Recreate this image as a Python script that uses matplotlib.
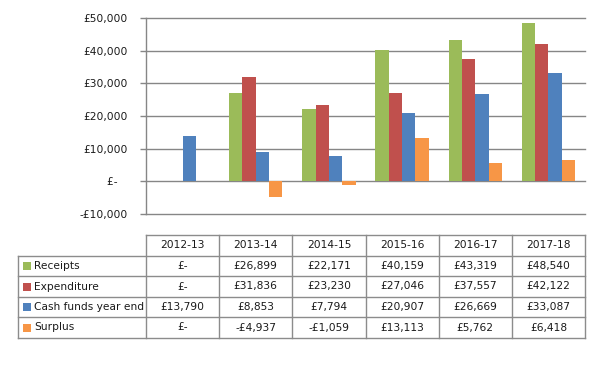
import matplotlib
matplotlib.use("Agg")
import matplotlib.pyplot as plt
from matplotlib.lines import Line2D
from matplotlib.patches import Rectangle
from matplotlib.transforms import blended_transform_factory
import numpy as np

years = ["2012-13", "2013-14", "2014-15", "2015-16", "2016-17", "2017-18"]
series_names = ["Receipts", "Expenditure", "Cash funds year end", "Surplus"]
receipts = [0, 26899, 22171, 40159, 43319, 48540]
expenditure = [0, 31836, 23230, 27046, 37557, 42122]
cash_funds = [13790, 8853, 7794, 20907, 26669, 33087]
surplus = [0, -4937, -1059, 13113, 5762, 6418]
colors = ["#9BBB59", "#C0504D", "#4F81BD", "#F79646"]
yticks = [-10000, 0, 10000, 20000, 30000, 40000, 50000]

series = [receipts, expenditure, cash_funds, surplus]


def fmt(v):
    if v == 0:
        return "£-"
    s = "£{:,}".format(abs(int(v)))
    return "-" + s if v < 0 else s


W, H = 607, 371
fig = plt.figure(figsize=(W / 100, H / 100), dpi=100)
fig.patch.set_facecolor("white")
plt.rcParams["font.family"] = ["DejaVu Sans"]
FS = 7.7
grid_c = "#868686"
table_c = "#8c8c8c"
txt_c = "#1a1a1a"

ax = fig.add_axes([146 / W, 1 - 214 / H, (585 - 146) / W, (214 - 18) / H])
ax.set_xlim(-0.5, len(years) - 0.5)
ax.set_ylim(yticks[0], yticks[-1])
ax.set_yticks(yticks)
ax.set_yticklabels([fmt(v) if v != 0 else "£-   " for v in yticks],
                   fontsize=FS, color=txt_c)
ax.set_xticks([])
for s in ["top", "right", "bottom"]:
    ax.spines[s].set_visible(False)
ax.spines["left"].set_color(grid_c)
ax.spines["left"].set_linewidth(1.0)
ax.tick_params(axis="y", length=4, color=grid_c, width=1.0, pad=9)
ax.yaxis.grid(True, color=grid_c, linewidth=1.0)
for gl in ax.get_ygridlines():
    gl.set_clip_on(False)
ax.set_axisbelow(True)

x = np.arange(len(years))
bw = 0.182
for i, (vals, c) in enumerate(zip(series, colors)):
    ax.bar(x + (i - 1.5) * bw, vals, width=bw, color=c, linewidth=0, zorder=3)

# Data table below chart
row_y = [235, 256, 276, 297, 317, 338]
col_x = [18, 146, 219, 292, 366, 439, 512, 585]


def fx(px):
    return px / W


def fy(py):
    return 1 - py / H


lines = []
lines.append(Line2D([fx(146), fx(585)], [fy(row_y[0])] * 2))
for yy in row_y[1:]:
    lines.append(Line2D([fx(18), fx(585)], [fy(yy)] * 2))
lines.append(Line2D([fx(18), fx(18)], [fy(row_y[1]), fy(row_y[-1])]))
for xx in col_x[1:]:
    lines.append(Line2D([fx(xx), fx(xx)], [fy(row_y[0]), fy(row_y[-1])]))
for ln in lines:
    ln.set_color(table_c)
    ln.set_linewidth(1.0)
    fig.add_artist(ln)

trans = blended_transform_factory(ax.transData, fig.transFigure)
hy = fy((row_y[0] + row_y[1]) / 2)
for j, yr in enumerate(years):
    fig.text(j, hy, yr, transform=trans, ha="center", va="center",
             fontsize=FS, color=txt_c)

for r, (name, vals, c) in enumerate(zip(series_names, series, colors)):
    cy = (row_y[r + 1] + row_y[r + 2]) / 2
    fig.add_artist(Rectangle((fx(23), fy(cy + 4)), 8 / W, 8 / H,
                             transform=fig.transFigure, color=c, lw=0))
    fig.text(fx(34), fy(cy), name, ha="left", va="center", fontsize=FS,
             color=txt_c)
    for j, v in enumerate(vals):
        fig.text(j, fy(cy), fmt(v), transform=trans, ha="center",
                 va="center", fontsize=FS, color=txt_c)

fig.savefig("out.png", dpi=100, facecolor="white")
